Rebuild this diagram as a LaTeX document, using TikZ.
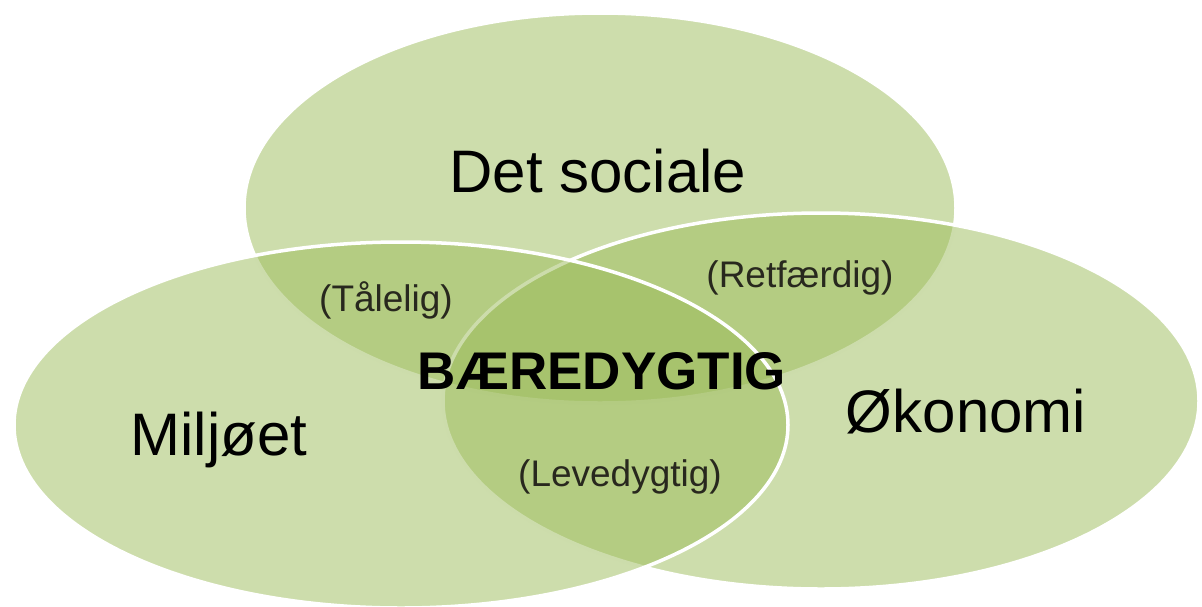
\documentclass[tikz,border=0pt]{standalone}
\usepackage{fontspec}
\setmainfont{Liberation Sans}
\usepackage{tikz}
\usetikzlibrary{shapes,positioning}
\definecolor{venngreen}{RGB}{155,187,89}
\definecolor{labelgray}{RGB}{40,40,30}
\tikzstyle{set} = [draw=white, ellipse, line width=3.5pt, fill=venngreen, fill opacity=0.5, inner sep=0pt]
\tikzstyle{big} = [anchor=base, inner sep=0pt, font=\fontsize{60}{66}\selectfont]
\tikzstyle{small} = [anchor=base, inner sep=0pt, text=labelgray, font=\fontsize{37}{42}\selectfont]
\tikzstyle{core} = [anchor=base, inner sep=0pt, font=\fontsize{53}{58}\bfseries\selectfont]

\begin{document}
\begin{tikzpicture}[x=1pt, y=-1pt]
	\useasboundingbox (0,0) rectangle (1202,606);
	\node [set, minimum width=712pt, minimum height=390pt] (social) at (600,208) {};
	\node [set, minimum width=756pt, minimum height=376pt] (oekonomi) at (821,401) {};
	\node [set, minimum width=774pt, minimum height=366pt] (miljoe) at (401,425) {};

	\node [big] (socialtxt) at (598,192) {Det sociale};
	\node [big] (miljoetxt) at (219,455) {Miljøet};
	\node [big] (oekonomitxt) at (966,432) {Økonomi};
	\node [small] (taalelig) at (386,311) {(Tålelig)};
	\node [small] (retfaerdig) at (800,287) {(Retfærdig)};
	\node [small] (levedygtig) at (620,486) {(Levedygtig)};
	\node [core] (baeredygtig) at (602,389) {BÆREDYGTIG};
\end{tikzpicture}
\end{document}
